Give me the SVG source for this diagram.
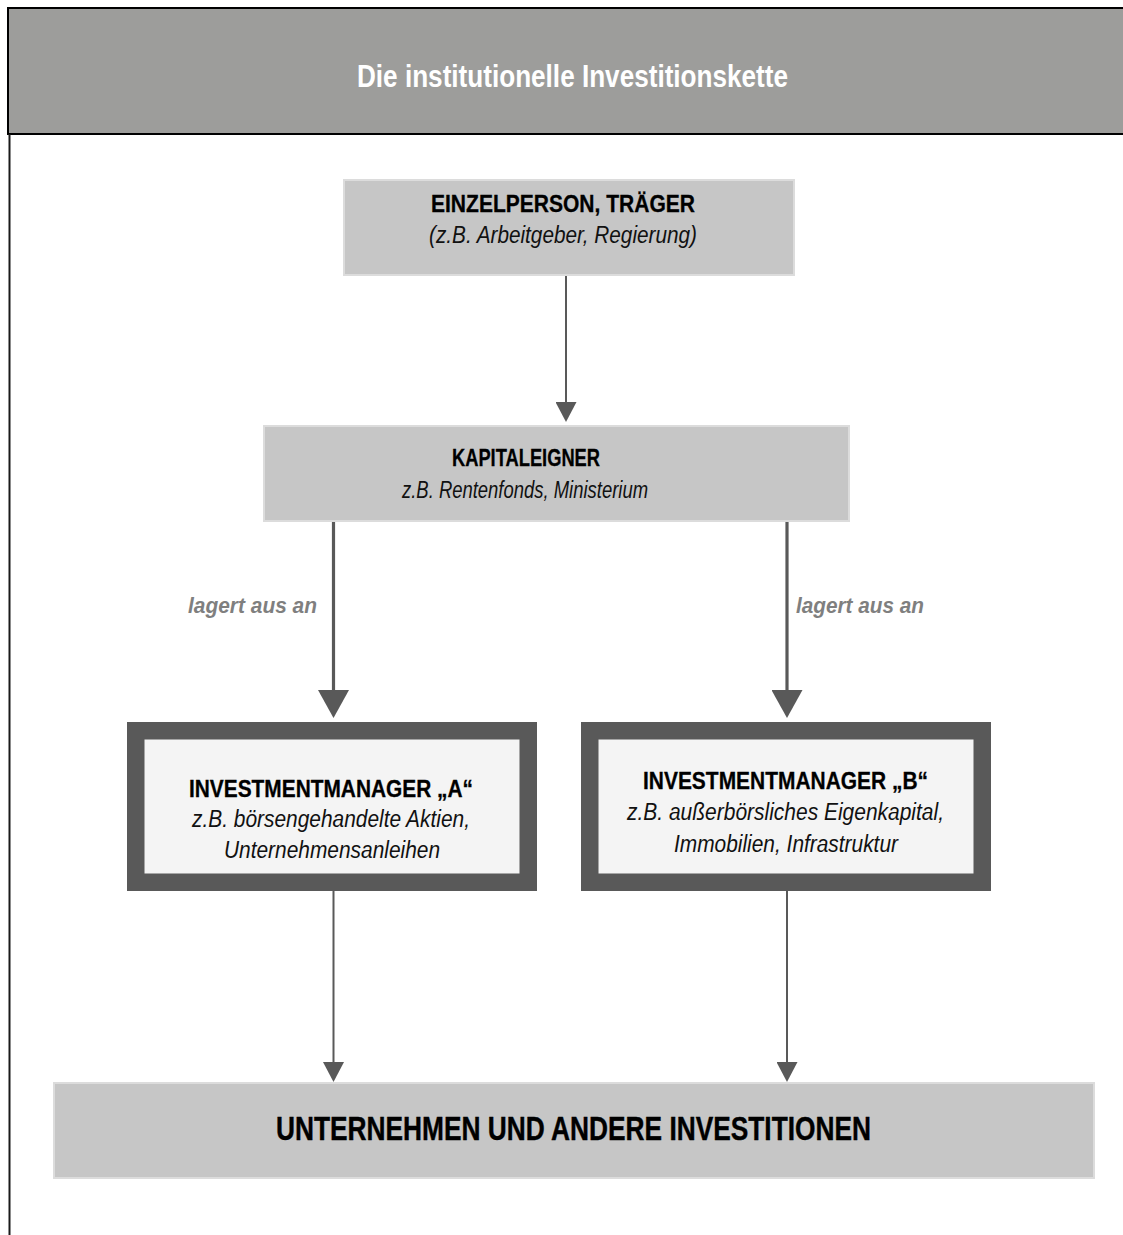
<svg xmlns="http://www.w3.org/2000/svg" width="1123" height="1235" viewBox="0 0 1123 1235">
<style>
text{font-family:"Liberation Sans",Arial,sans-serif;}
.hd{fill:#ffffff;font-weight:bold;font-size:31px;}
.t{fill:#000000;font-weight:bold;font-size:24px;stroke:#000000;stroke-width:0.3;}
.s{fill:#111111;font-style:italic;font-size:23px;}
.lbl{fill:#7f7f7f;font-weight:bold;font-style:italic;font-size:22px;}
.big{fill:#000000;font-weight:bold;font-size:33px;stroke:#000000;stroke-width:0.4;}
.gbox{fill:#c6c6c6;stroke:#dcdcdc;stroke-width:2;}
.mbox{fill:#f4f4f4;stroke:#595959;stroke-width:17.5;}
.thin{stroke:#595959;stroke-width:2;fill:none;}
.thick{stroke:#595959;stroke-width:3.2;fill:none;}
</style>
<defs>
<marker id="ahs" markerUnits="userSpaceOnUse" viewBox="0 0 20 21" markerWidth="20" markerHeight="21" refX="10" refY="10.5" orient="auto">
<path d="M0,0 L20,10.5 L0,21 Z" fill="#595959"/>
</marker>
<marker id="ahb" markerUnits="userSpaceOnUse" viewBox="0 0 28 31" markerWidth="28" markerHeight="31" refX="14" refY="15.5" orient="auto">
<path d="M0,0 L28,15.5 L0,31 Z" fill="#595959"/>
</marker>
</defs>

<g id="frame">
<rect x="8" y="8" width="1130" height="126" fill="#9d9d9b" stroke="#000000" stroke-width="2"/>
<line x1="9.5" y1="134" x2="9.5" y2="1235" stroke="#1a1a1a" stroke-width="2"/>
<text class="hd" x="357" y="87" textLength="431" lengthAdjust="spacingAndGlyphs">Die institutionelle Investitionskette</text>
</g>

<g id="connectors">
<line class="thin" x1="566" y1="276" x2="566" y2="412" marker-end="url(#ahs)"/>
<line class="thick" x1="333.5" y1="521" x2="333.5" y2="704" marker-end="url(#ahb)"/>
<line class="thick" x1="787" y1="521" x2="787" y2="704" marker-end="url(#ahb)"/>
<line class="thin" x1="333.5" y1="891" x2="333.5" y2="1072" marker-end="url(#ahs)"/>
<line class="thin" x1="787" y1="891" x2="787" y2="1072" marker-end="url(#ahs)"/>
<text class="lbl" x="188" y="613" textLength="129" lengthAdjust="spacingAndGlyphs">lagert aus an</text>
<text class="lbl" x="796" y="613" textLength="128" lengthAdjust="spacingAndGlyphs">lagert aus an</text>
</g>

<g id="node-einzelperson">
<rect class="gbox" x="344" y="180" width="450" height="95"/>
<text class="t" x="431" y="211.5" textLength="264" lengthAdjust="spacingAndGlyphs">EINZELPERSON, TRÄGER</text>
<text class="s" x="429" y="243" textLength="268" lengthAdjust="spacingAndGlyphs">(z.B. Arbeitgeber, Regierung)</text>
</g>

<g id="node-kapitaleigner">
<rect class="gbox" x="264" y="426" width="585" height="95"/>
<text class="t" x="452" y="466" textLength="148" lengthAdjust="spacingAndGlyphs">KAPITALEIGNER</text>
<text class="s" x="402" y="498" textLength="246" lengthAdjust="spacingAndGlyphs">z.B. Rentenfonds, Ministerium</text>
</g>

<g id="node-manager-a">
<rect class="mbox" x="135.75" y="730.75" width="392.5" height="151.5"/>
<text class="t" x="189" y="796.5" textLength="284" lengthAdjust="spacingAndGlyphs">INVESTMENTMANAGER „A“</text>
<text class="s" x="192" y="827" textLength="278" lengthAdjust="spacingAndGlyphs">z.B. börsengehandelte Aktien,</text>
<text class="s" x="224" y="858" textLength="216" lengthAdjust="spacingAndGlyphs">Unternehmensanleihen</text>
</g>

<g id="node-manager-b">
<rect class="mbox" x="589.75" y="730.75" width="392.5" height="151.5"/>
<text class="t" x="643" y="789" textLength="285" lengthAdjust="spacingAndGlyphs">INVESTMENTMANAGER „B“</text>
<text class="s" x="627" y="820" textLength="317" lengthAdjust="spacingAndGlyphs">z.B. außerbörsliches Eigenkapital,</text>
<text class="s" x="674" y="852" textLength="224" lengthAdjust="spacingAndGlyphs">Immobilien, Infrastruktur</text>
</g>

<g id="node-unternehmen">
<rect class="gbox" x="54" y="1083" width="1040" height="95"/>
<text class="big" x="276" y="1139.5" textLength="595" lengthAdjust="spacingAndGlyphs">UNTERNEHMEN UND ANDERE INVESTITIONEN</text>
</g>
</svg>
